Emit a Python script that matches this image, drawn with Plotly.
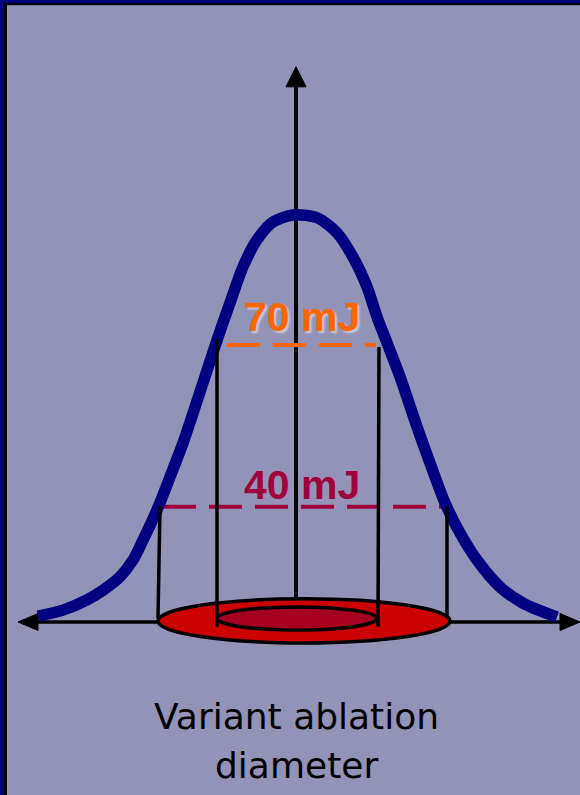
import numpy as np
import plotly.graph_objects as go

# ---- data -------------------------------------------------------------
# Gaussian beam profile: radial position (arb. units, 0 = beam axis) and local energy (mJ)
profile_r = [-258, -233, -209, -193, -176, -163, -153, -139, -126, -113, -93, -79, -66, -53, -39, -23, -3,
             21, 41, 57, 71, 81, 91, 104, 121, 134, 149, 164, 181, 204, 227, 261]
profile_mj = [19.7, 20.8, 22.7, 24.5, 27.0, 30.1, 33.8, 39.4, 45.5, 51.8, 63.0, 70.9, 77.8, 84.5, 89.5, 92.8, 94.1,
              93.6, 90.8, 86.3, 80.8, 75.2, 70.4, 64.1, 54.8, 48.1, 40.7, 35.1, 30.1, 25.1, 22.1, 19.5]

# pulse energy levels and where they cut the profile
levels_mj = [40, 70]
level_labels = ["40 mJ", "70 mJ"]
level_r_start = [-133, -69]
level_r_end = [151, 80]

# crater edges dropped from the profile to the surface
edge_r_top = [-136, 151, -79, 83]
edge_r_bottom = [-138, 151, -79, 82]
edge_mj_top = [40, 40, 71.1, 69.6]
edge_mj_bottom = [19.3, 19.3, 17.7, 17.7]

# ablation craters (outer = 40 mJ, inner = 70 mJ): radial and vertical extents
crater_r = [[-138, 154], [-79, 81]]
crater_mj = [[14.7, 22.9], [17.1, 21.4]]

# axes of the sketch
baseline_mj = 18.6
axis_r = [-278, 284]
axis_top_mj = 121.6

caption_lines = ["Variant ablation", "diameter"]

# ---- styling ----------------------------------------------------------
BG = "#9393B7"
NAVY = "#000080"
LEVEL_COLORS = ["#A0003C", "#FF6600"]
CRATER_COLORS = ["#CC0000", "#A50021"]
W, H = 580, 795
X_RANGE = [-296, 284]
Y_RANGE = [-13.5, 134.0]
px_per_r = W / (X_RANGE[1] - X_RANGE[0])
px_per_mj = H / (Y_RANGE[1] - Y_RANGE[0])

fig = go.Figure()

# axis lines and craters sit underneath everything else
shapes = [
    dict(type="line", xref="x", yref="y", x0=axis_r[0] + 10 / px_per_r, x1=axis_r[1] - 10 / px_per_r,
         y0=baseline_mj, y1=baseline_mj, line=dict(color="black", width=3.5), layer="below"),
    dict(type="line", xref="x", yref="y", x0=0, x1=0, y0=baseline_mj, y1=axis_top_mj - 10 / px_per_mj,
         line=dict(color="black", width=4), layer="below"),
]
for (r0, r1), (m0, m1), col in zip(crater_r, crater_mj, CRATER_COLORS):
    shapes.append(dict(type="circle", xref="x", yref="y", x0=r0, x1=r1, y0=m0, y1=m1,
                       fillcolor=col, line=dict(color="black", width=3.5), layer="below"))

# page frame
shapes += [
    dict(type="rect", xref="paper", yref="paper", x0=0, x1=7 / W, y0=0, y1=1,
         fillcolor="black", line_width=0, layer="above"),
    dict(type="rect", xref="paper", yref="paper", x0=0, x1=1, y0=1 - 5 / H, y1=1,
         fillcolor="black", line_width=0, layer="above"),
    dict(type="rect", xref="paper", yref="paper", x0=0, x1=4 / W, y0=0, y1=1,
         fillcolor=NAVY, line_width=0, layer="above"),
    dict(type="rect", xref="paper", yref="paper", x0=0, x1=1, y0=1 - 3 / H, y1=1,
         fillcolor=NAVY, line_width=0, layer="above"),
    dict(type="rect", xref="paper", yref="paper", x0=7 / W, x1=1, y0=1 - 6 / H, y1=1 - 5 / H,
         fillcolor="#76769A", line_width=0, layer="above"),
]


def arrowhead(tip_r, tip_mj, direction, length_px, width_px):
    """Filled triangle in data units pointing along direction ('left', 'right', 'up')."""
    L_r, L_m = length_px / px_per_r, length_px / px_per_mj
    hw_r, hw_m = width_px / 2 / px_per_r, width_px / 2 / px_per_mj
    if direction == "left":
        xs = [tip_r, tip_r + L_r, tip_r + L_r, tip_r]
        ys = [tip_mj, tip_mj + hw_m, tip_mj - hw_m, tip_mj]
    elif direction == "right":
        xs = [tip_r, tip_r - L_r, tip_r - L_r, tip_r]
        ys = [tip_mj, tip_mj + hw_m, tip_mj - hw_m, tip_mj]
    else:
        xs = [tip_r, tip_r - hw_r, tip_r + hw_r, tip_r]
        ys = [tip_mj, tip_mj - L_m, tip_mj - L_m, tip_mj]
    return xs, ys


for tip_r, tip_mj, d, ln, wd in [(axis_r[0], baseline_mj, "left", 20, 17),
                                   (axis_r[1], baseline_mj, "right", 20, 17),
                                   (0, axis_top_mj, "up", 20, 20)]:
    ax_, ay_ = arrowhead(tip_r, tip_mj, d, ln, wd)
    fig.add_trace(go.Scatter(x=ax_, y=ay_, mode="lines", fill="toself", fillcolor="black",
                             line=dict(color="black", width=1), hoverinfo="skip"))

# dashed energy levels
for lvl, r0, r1, col in zip(levels_mj, level_r_start, level_r_end, LEVEL_COLORS):
    fig.add_trace(go.Scatter(x=[r0, r1], y=[lvl, lvl], mode="lines",
                             line=dict(color=col, width=4, dash="33px,13px"), hoverinfo="skip"))

# beam profile
fig.add_trace(go.Scatter(x=profile_r, y=profile_mj, mode="lines",
                         line=dict(color=NAVY, width=11.5, shape="spline", smoothing=0.8),
                         hoverinfo="skip"))

# crater edges
for rt, rb, mt, mb in zip(edge_r_top, edge_r_bottom, edge_mj_top, edge_mj_bottom):
    fig.add_trace(go.Scatter(x=[rt, rb], y=[mt, mb], mode="lines",
                             line=dict(color="black", width=3.5), hoverinfo="skip"))

# level labels just above each dashed line
label_lift_px = [22, 28]
label_shadow = ["none", "2px 2px 2px #C8C8DA"]
annotations = []
for lvl, txt, col, lift, sh in zip(levels_mj, level_labels, LEVEL_COLORS, label_lift_px, label_shadow):
    annotations.append(dict(x=6, y=lvl + lift / px_per_mj, xref="x", yref="y", text=txt,
                            showarrow=False, xanchor="center", yanchor="middle",
                            font=dict(family="Liberation Sans, Arial, sans-serif", size=41,
                                      color=col, weight="bold", shadow=sh)))

caption_y_px = [716, 765]
for line, py in zip(caption_lines, caption_y_px):
    annotations.append(dict(x=0, y=1 - py / H, xref="x", yref="paper", text=line,
                            showarrow=False, xanchor="center", yanchor="middle",
                            font=dict(family="DejaVu Sans, Verdana, sans-serif", size=36, color="black")))

fig.update_layout(
    width=W, height=H,
    margin=dict(l=0, r=0, t=0, b=0),
    paper_bgcolor=BG, plot_bgcolor=BG,
    showlegend=False,
    xaxis=dict(range=X_RANGE, visible=False, fixedrange=True),
    yaxis=dict(range=Y_RANGE, visible=False, fixedrange=True),
    shapes=shapes,
    annotations=annotations,
)

fig.write_html("out.html")
